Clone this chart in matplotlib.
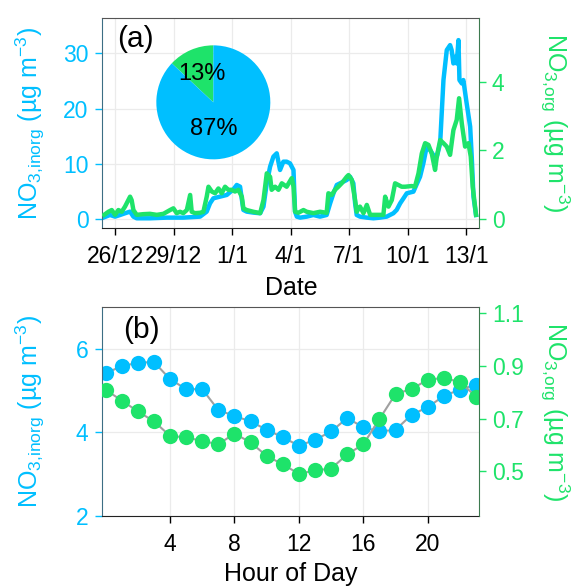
import numpy as np
import matplotlib
matplotlib.use("Agg")
import matplotlib.pyplot as plt

# ---------------
# Data
# ---------------

# time series, days since 26 Dec 00:00
t_inorg = [-0.56, -0.26, 0.0, 0.26, 0.51, 0.77, 0.94, 1.11, 1.79, 2.65, 3.5, 4.36,
           4.7, 4.87, 5.04, 5.38, 5.73, 6.07, 6.24, 6.41, 6.58, 6.75, 7.09, 7.44,
           7.61, 7.78, 7.95, 8.12, 8.29, 8.46, 8.63, 8.8, 8.97, 9.15, 9.23, 9.32,
           9.49, 9.83, 10.17, 10.51, 10.85, 11.03, 11.2, 11.37, 11.54, 11.88, 12.05,
           12.22, 12.31, 12.39, 12.56, 12.91, 13.25, 13.59, 13.93, 14.27, 14.44,
           14.62, 14.79, 14.96, 15.3, 15.64, 15.81, 15.98, 16.15, 16.32, 16.5,
           16.67, 16.84, 17.01, 17.18, 17.26, 17.35, 17.44, 17.52, 17.61, 17.66,
           17.78, 17.86, 18.03, 18.21, 18.29, 18.38, 18.51]
no3_inorg = [0.3, 0.72, 0.42, 0.72, 1.03, 1.33, 0.42, 0.12, 0.12, 0.24, 0.24, 0.42,
             1.33, 2.84, 3.74, 4.04, 4.35, 5.37, 6.16, 5.85, 1.63, 1.33, 1.15, 1.03,
             2.23, 6.46, 9.47, 11.29, 11.89, 8.87, 10.38, 10.38, 10.08, 8.87, 1.33, 0.42,
             0.24, 0.42, 0.72, 0.42, 0.72, 2.84, 4.65, 6.16, 6.46, 7.06, 7.66,
             6.46, 2.84, 0.72, 0.42, 0.24, 0.12, 0.24, 0.42, 1.03, 1.63,
             2.84, 3.74, 4.65, 4.95, 7.66, 10.08, 13.1, 12.49, 11.59, 11.29,
             13.7, 25.17, 30.6, 31.5, 30.6, 28.18, 29.39, 28.18, 32.41, 25.17,
             24.56, 25.17, 20.94, 16.72, 11.29, 4.04, 0.72]

t_org = [-0.56, -0.34, -0.17, 0.0, 0.17, 0.34, 0.51, 0.68, 0.77, 0.85, 0.94, 1.11,
         1.45, 1.79, 2.14, 2.48, 2.82, 2.99, 3.16, 3.33, 3.5, 3.68, 3.85, 3.93, 4.1,
         4.36, 4.53, 4.7, 4.79, 4.96, 5.13, 5.3, 5.47, 5.64, 5.81, 5.98, 6.15, 6.32,
         6.5, 6.58, 6.75, 7.09, 7.44, 7.61, 7.78, 7.95, 8.03, 8.21, 8.38, 8.55, 8.8,
         9.06, 9.15, 9.23, 9.4, 9.66, 9.83, 10.17, 10.51, 10.85, 10.94, 11.11, 11.28,
         11.45, 11.62, 11.88, 11.97, 12.14, 12.31, 12.39, 12.56, 12.74, 12.91, 13.08,
         13.42, 13.76, 13.85, 14.02, 14.19, 14.36, 14.53, 14.7, 14.87, 15.21, 15.38,
         15.56, 15.73, 15.9, 16.07, 16.24, 16.41, 16.5, 16.67, 16.84, 17.01, 17.18,
         17.35, 17.52, 17.64, 17.78, 17.95, 18.12, 18.24, 18.34, 18.51]
no3_org = [0.12, 0.21, 0.26, 0.12, 0.26, 0.21, 0.36, 0.55, 0.65, 0.55, 0.26, 0.12,
           0.14, 0.15, 0.12, 0.15, 0.26, 0.31, 0.17, 0.21, 0.17, 0.26, 0.70, 0.21, 0.17,
           0.18, 0.21, 0.65, 0.94, 0.8, 0.75, 0.89, 0.75, 0.94, 0.85, 0.85, 0.8, 0.85,
           0.65, 0.31, 0.26, 0.21, 0.17, 0.55, 1.33, 1.23, 0.85, 0.94, 0.85, 1.04, 0.94,
           1.19, 0.94, 0.21, 0.18, 0.26, 0.21, 0.17, 0.21, 0.18, 0.75, 0.70, 0.85,
           0.94, 1.04, 1.23, 1.28, 1.14, 0.55, 0.21, 0.36, 0.17, 0.41, 0.12,
           0.12, 0.12, 0.65, 0.36, 0.55, 1.04, 0.99, 0.94, 0.94, 0.96, 0.94,
           1.33, 1.91, 2.21, 2.16, 1.91, 1.43, 1.82, 2.30, 2.21, 2.11, 1.87,
           2.59, 2.89, 3.52, 2.79, 2.11, 2.21, 1.82, 0.94, 0.12]

date_ticks = [0, 3, 6, 9, 12, 15, 18]
date_labels = ["26/12", "29/12", "1/1", "4/1", "7/1", "10/1", "13/1"]

# pie fractions (%)
pie_labels = ["org", "inorg"]
pie_frac = [13, 87]

# diurnal cycle
hour = list(range(24))
diurnal_inorg = [5.41, 5.58, 5.66, 5.68, 5.27, 5.03, 5.03, 4.53, 4.39, 4.26, 4.06, 3.88,
                 3.68, 3.82, 4.02, 4.34, 4.12, 4.02, 4.06, 4.42, 4.60, 4.87, 5.02, 5.14]
diurnal_org = [0.81, 0.769, 0.728, 0.69, 0.635, 0.629, 0.616, 0.603, 0.644, 0.61, 0.559, 0.527,
               0.491, 0.504, 0.511, 0.565, 0.603, 0.699, 0.794, 0.813, 0.848, 0.855, 0.839, 0.784]

# ---------------
# Style
# ---------------

blue = '#00BFFF'
green = '#1EE36A'
grid_col = '#EBEBEB'

plt.rcParams['font.family'] = 'Liberation Sans'
plt.rcParams['mathtext.default'] = 'regular'
plt.rcParams['font.size'] = 16.5

lab_inorg = r'NO$_{3{,}inorg}$ (µg m$^{-3}$)'
lab_org = r'NO$_{3{,}org}$ (µg m$^{-3}$)'


def style_axes(ax, ax2):
    ax.grid(True, color=grid_col, lw=0.9)
    ax.set_axisbelow(True)
    ax.tick_params(axis='y', colors=blue, length=5, width=1, pad=5, labelsize=16.5)
    ax.tick_params(axis='x', colors='black', length=5, width=1, pad=7.5, labelsize=16.5)
    ax2.tick_params(axis='y', colors=green, length=5, width=1, pad=4, labelsize=16.5)
    ax.spines['left'].set_color('#3c6e84')
    ax.spines['top'].set_color('#555555')
    ax.spines['bottom'].set_color('#222222')
    ax.spines['right'].set_visible(False)
    for s in ['left', 'top', 'bottom']:
        ax2.spines[s].set_visible(False)
    ax2.spines['right'].set_color('#3d7a4f')
    ax.yaxis.label.set_color(blue)
    ax2.yaxis.label.set_color(green)
    ax.yaxis.set_label_coords(-0.147, 0.5)
    ax2.yaxis.label.set_rotation(270)
    ax2.yaxis.label.set_verticalalignment('bottom')
    ax2.yaxis.set_label_coords(1.156, 0.5)


fig = plt.figure(figsize=(5.72, 5.88), dpi=100)

# ---------------
# (a) time series
# ---------------

base = np.datetime64('2013-12-26T00:00')


def to_dates(days):
    return base + (np.asarray(days) * 24 * 60).round().astype('timedelta64[m]')


ax1 = fig.add_axes([0.179, 0.6128, 0.659, 0.356])
ax1b = ax1.twinx()
ax1.plot(to_dates(t_inorg), no3_inorg, color=blue, lw=3.2, solid_joinstyle='round')
ax1b.plot(to_dates(t_org), no3_org, color=green, lw=3.2, solid_joinstyle='round')
ax1.set_xlim(to_dates(-0.65), to_dates(18.68))
ax1.set_ylim(-1.58, 36.35)
ax1b.set_ylim(-0.254, 5.85)
ax1.set_yticks([0, 10, 20, 30])
ax1b.set_yticks([0, 2, 4])
ax1.set_xticks(to_dates(date_ticks))
ax1.set_xticklabels(date_labels)
ax1.set_xlabel('Date', fontsize=18, labelpad=6)
ax1.set_ylabel(lab_inorg, fontsize=18)
ax1b.set_ylabel(lab_org, fontsize=18)
style_axes(ax1, ax1b)
ax1.text(0.04, 0.90, '(a)', transform=ax1.transAxes, fontsize=21.5, va='center', ha='left')

# pie inset
axp = fig.add_axes([0.2733, 0.729, 0.1993, 0.1939])
wedges, texts, autotexts = axp.pie(pie_frac, colors=[green, blue], startangle=90,
                                   counterclock=True, autopct='%d%%', pctdistance=0.55,
                                   textprops={'fontsize': 17})
autotexts[0].set_position((-0.2, 0.5))
autotexts[1].set_position((0.0, -0.46))
axp.set_xlim(-1.0, 1.0)
axp.set_ylim(-1.0, 1.0)
axp.set_aspect('equal')

# ---------------
# (b) diurnal cycle
# ---------------

ax2 = fig.add_axes([0.179, 0.1224, 0.659, 0.356])
ax2b = ax2.twinx()
ax2.plot(hour, diurnal_inorg, color='#A0A0A0', lw=1.5, marker='o', ms=11,
         mfc=blue, mec=blue, mew=0)
ax2b.plot(hour, diurnal_org, color='#A0A0A0', lw=1.5, marker='o', ms=11,
          mfc=green, mec=green, mew=0)
ax2.set_xlim(-0.2, 23.2)
ax2.set_ylim(2, 7)
ax2b.set_ylim(0.331, 1.125)
ax2.set_xticks([4, 8, 12, 16, 20])
ax2.set_yticks([2, 4, 6])
ax2b.set_yticks([0.5, 0.7, 0.9, 1.1])
ax2.set_xlabel('Hour of Day', fontsize=18, labelpad=4)
ax2.set_ylabel(lab_inorg, fontsize=18)
ax2b.set_ylabel(lab_org, fontsize=18)
style_axes(ax2, ax2b)
ax2.text(0.055, 0.89, '(b)', transform=ax2.transAxes, fontsize=21.5, va='center', ha='left')

fig.savefig('out.png', dpi=100)
